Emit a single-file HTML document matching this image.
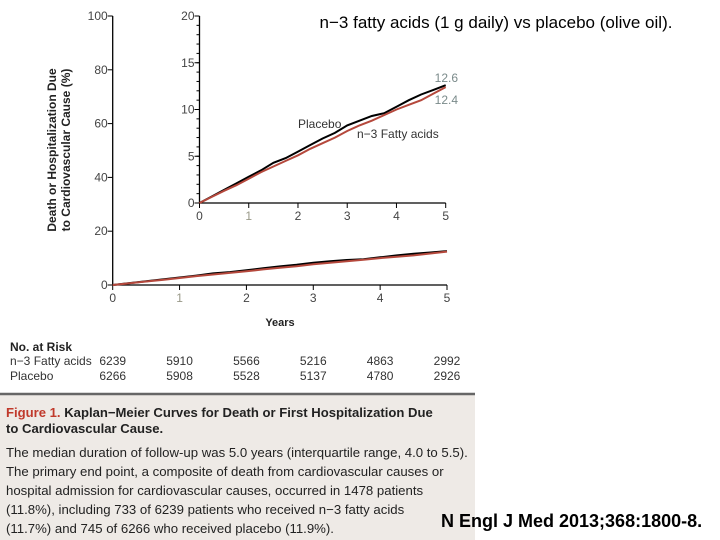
<!DOCTYPE html>
<html><head><meta charset="utf-8"><style>
body{margin:0;background:#fff;width:720px;height:540px;overflow:hidden;font-family:"Liberation Sans",sans-serif}
svg{position:absolute;left:0;top:0}
</style></head><body>
<svg width="720" height="540">
<rect x="0" y="394" width="475" height="146" fill="#eeeae6"/>
<line x1="0" y1="394" x2="475" y2="394" stroke="#666" stroke-width="2.5"/>
<g id="main"></g>
<g id="inset"></g>
<text x="496" y="28" font-size="17" text-anchor="middle" fill="#000">n−3 fatty acids (1 g daily) vs placebo (olive oil).</text>
<text transform="translate(56,150) rotate(-90)" font-size="12" font-weight="bold" fill="#222" text-anchor="middle"><tspan x="0" dy="0">Death or Hospitalization Due</tspan><tspan x="0" dy="14">to Cardiovascular Cause (%)</tspan></text>
<text x="280" y="326" font-size="11" font-weight="bold" fill="#222" text-anchor="middle">Years</text>
<g font-size="12" fill="#333">
<text x="10" y="351" font-weight="bold" fill="#222">No. at Risk</text>
<text x="10" y="365">n−3 Fatty acids</text>
<text x="10" y="380">Placebo</text>
<g id="riskvals"></g>
</g>
<g font-size="13.2" fill="#222">
<text x="6" y="417" font-weight="bold" font-size="13.1"><tspan fill="#c0392b">Figure 1.</tspan> Kaplan−Meier Curves for Death or First Hospitalization Due</text>
<text x="6" y="433" font-weight="bold" font-size="13.1">to Cardiovascular Cause.</text>
<text x="6" y="457">The median duration of follow-up was 5.0 years (interquartile range, 4.0 to 5.5).</text>
<text x="6" y="476">The primary end point, a composite of death from cardiovascular causes or</text>
<text x="6" y="495">hospital admission for cardiovascular causes, occurred in 1478 patients</text>
<text x="6" y="514">(11.8%), including 733 of 6239 patients who received n−3 fatty acids</text>
<text x="6" y="533">(11.7%) and 745 of 6266 who received placebo (11.9%).</text>
</g>
<text x="441" y="527" font-size="18" font-weight="bold" fill="#000">N Engl J Med 2013;368:1800-8.</text>
</svg>
<script>
const years=[0,0.25,0.5,0.75,1,1.25,1.5,1.75,2,2.25,2.5,2.75,3,3.25,3.5,3.75,4,4.25,4.5,4.75,5];
const placebo=[0,0.7,1.4,2.1,2.8,3.5,4.3,4.8,5.5,6.2,6.9,7.5,8.3,8.8,9.3,9.6,10.3,11.0,11.6,12.1,12.6];
const fatty=[0,0.65,1.3,1.9,2.6,3.3,3.9,4.5,5.1,5.8,6.4,7.0,7.7,8.3,8.8,9.4,10.0,10.5,11.0,11.7,12.4];
const xTicks=[0,1,2,3,4,5];
const mainYTicks=[0,20,40,60,80,100];
const insetYTicks=[0,5,10,15,20];
const riskN3=[6239,5910,5566,5216,4863,2992];
const riskPl=[6266,5908,5528,5137,4780,2926];
const NS='http://www.w3.org/2000/svg';
function mk(p,t,a){const e=document.createElementNS(NS,t);for(const k in a)e.setAttribute(k,a[k]);p.appendChild(e);return e;}
function chart(g,x0,x1,y0,y1,ymax,yticks,minor,fs,nm){
 const sx=v=>x0+(x1-x0)*v/5, sy=v=>y0-(y0-y1)*v/ymax;
 let l=mk(g,'line',{x1:x0,y1:y0,x2:x0,y2:y1,stroke:'#000','stroke-width':1.3});
 
 l=mk(g,'line',{x1:x0,y1:y0,x2:x1,y2:y0,stroke:'#000','stroke-width':1.3});
 
 if(minor){for(let v=0;v<=ymax;v++)mk(g,'line',{x1:x0-3,y1:sy(v),x2:x0,y2:sy(v),stroke:'#000'});}
 yticks.forEach(v=>{mk(g,'line',{x1:x0-5,y1:sy(v),x2:x0,y2:sy(v),stroke:'#000'});
  const t=mk(g,'text',{x:x0-5,y:sy(v)+4,'font-size':fs,'text-anchor':'end',fill:'#444'});t.textContent=v;
  });
 xTicks.forEach(v=>{mk(g,'line',{x1:sx(v),y1:y0,x2:sx(v),y2:y0+5,stroke:'#000'});
  const t=mk(g,'text',{x:sx(v),y:y0+17,'font-size':fs,'text-anchor':'middle',fill:v==1?'#998':'#444'});t.textContent=v;
  });
 [[placebo,'#000','placebo'],[fatty,'#b5483c','n3']].forEach(([d,c,n])=>{
  const pts=years.map((y,i)=>sx(y).toFixed(1)+','+sy(d[i]).toFixed(1)).join(' ');
  const p=mk(g,'polyline',{points:pts,fill:'none',stroke:c,'stroke-width':2});
  });
 return [sx,sy];
}
const [mx,my]=chart(document.getElementById('main'),112.7,447,285,16,100,mainYTicks,false,12,'main');
const [ix,iy]=chart(document.getElementById('inset'),199.5,445.7,203,16,20,insetYTicks,true,12,'inset');
const ig=document.getElementById('inset');
function lab(x,y,s,c,n,a){const t=mk(ig,'text',{x:x,y:y,'font-size':12,fill:c,'text-anchor':a||'start'});t.textContent=s;
 }
lab(298,128,'Placebo','#333','placebo-label');
lab(357,138,'n−3 Fatty acids','#333','n3-label');
lab(458,82,placebo[placebo.length-1].toFixed(1),'#7a8a8a','placebo-end-value','end');
lab(458,104,fatty[fatty.length-1].toFixed(1),'#7a8a8a','n3-end-value','end');
const rv=document.getElementById('riskvals');
riskN3.forEach((v,i)=>{const t=mk(rv,'text',{x:mx(xTicks[i]),y:365,'text-anchor':'middle'});t.textContent=v;
 });
riskPl.forEach((v,i)=>{const t=mk(rv,'text',{x:mx(xTicks[i]),y:380,'text-anchor':'middle'});t.textContent=v;
 });
</script>
</body></html>
